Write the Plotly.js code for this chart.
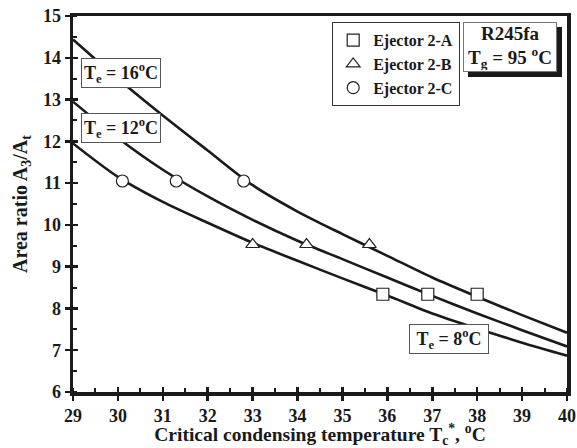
<!DOCTYPE html>
<html><head><meta charset="utf-8">
<script src="https://cdn.plot.ly/plotly-3.0.1.min.js"></script>
<style>html,body{margin:0;padding:0;background:#fff}#chart{width:577px;height:448px}</style>
</head><body><div id="chart"></div>
<script>
// Critical condensing temperature (°C) at which the fitted curves were read
const tempC = [29, 30, 31, 32, 33, 34, 35, 36, 37, 38, 39, 40];
// Area ratio curves for evaporator temperatures
const te8  = [11.95, 11.15, 10.55, 10.05, 9.57, 9.14, 8.72, 8.31, 7.88, 7.52, 7.18, 6.87];
const te12 = [12.95, 12.08, 11.32, 10.68, 10.12, 9.62, 9.18, 8.74, 8.30, 7.88, 7.48, 7.09];
const te16 = [14.44, 13.50, 12.62, 11.78, 10.95, 10.32, 9.78, 9.26, 8.74, 8.28, 7.84, 7.42];
// Experimental points
const ejA_x = [35.9, 36.9, 38.0];
const ejA_y = [8.34, 8.34, 8.34];
const ejB_x = [33.0, 34.2, 35.6];
const ejB_y = [9.53, 9.53, 9.53];
const ejC_x = [30.1, 31.3, 32.8];
const ejC_y = [11.05, 11.05, 11.05];
const seriesNames = ['Ejector 2-A', 'Ejector 2-B', 'Ejector 2-C'];
const curveLabels = ['T<sub>e</sub> = 8<sup>o</sup>C', 'T<sub>e</sub> = 12<sup>o</sup>C', 'T<sub>e</sub> = 16<sup>o</sup>C'];

const FONT = 'Liberation Serif, Times New Roman, serif';
const INK = '#1a1a1a';
const lineStyle = {color: INK, width: 2.6, shape: 'spline', smoothing: 0.8};
const mk = (sym) => ({symbol: sym, size: 12, color: '#fff', line: {color: '#222', width: 1.2}});

const traces = [
  {x: tempC, y: te8, mode: 'lines', line: lineStyle, showlegend: false, hoverinfo: 'skip'},
  {x: tempC, y: te12, mode: 'lines', line: lineStyle, showlegend: false, hoverinfo: 'skip'},
  {x: tempC, y: te16, mode: 'lines', line: lineStyle, showlegend: false, hoverinfo: 'skip'},
  {x: ejA_x, y: ejA_y, mode: 'markers', name: seriesNames[0], marker: mk('square')},
  {x: ejB_x, y: ejB_y, mode: 'markers', name: seriesNames[1], marker: mk('triangle-up')},
  {x: ejC_x, y: ejC_y, mode: 'markers', name: seriesNames[2], marker: mk('circle')},
  // invisible trace carrying the inner half of the major ticks
  {x: [29], y: [6], xaxis: 'x2', yaxis: 'y2', mode: 'markers', marker: {opacity: 0}, showlegend: false, hoverinfo: 'skip'}
];

const boxAnn = (x, y, text) => ({
  x: x, y: y, xref: 'x', yref: 'y', xanchor: 'center', yanchor: 'middle', text: text, showarrow: false,
  font: {family: FONT, size: 18, color: INK, weight: 'bold'},
  bgcolor: '#fff', bordercolor: '#555', borderwidth: 1, borderpad: 2,
  width: 74, height: 24
});

const infoX = (510 - 73) / 494, infoY = 1 - (47 - 16) / 376;

const layout = {
  width: 577, height: 448,
  margin: {l: 73, r: 10, t: 16, b: 56},
  paper_bgcolor: '#fff', plot_bgcolor: 'rgba(0,0,0,0)',
  font: {family: FONT, color: INK, weight: 'bold'},
  xaxis: {
    range: [29, 40], dtick: 1, tick0: 29, showgrid: false, zeroline: false,
    showline: true, linewidth: 3.5, linecolor: INK, mirror: true,
    ticks: 'outside', ticklen: 5, tickwidth: 2.5, tickcolor: INK,
    minor: {dtick: 0.5, ticks: 'inside', ticklen: 4, tickwidth: 2, tickcolor: INK, showgrid: false},
    tickfont: {family: FONT, size: 18, color: INK, weight: 'bold'},
    title: {text: 'Critical condensing temperature T<sub>c</sub><sup>*</sup>, <sup>o</sup>C', standoff: 8,
            font: {family: FONT, size: 19.5, color: INK, weight: 'bold'}}
  },
  yaxis: {
    range: [6, 15], dtick: 1, showgrid: false, zeroline: false,
    showline: true, linewidth: 3.5, linecolor: INK, mirror: true,
    ticks: 'outside', ticklen: 5, tickwidth: 2.5, tickcolor: INK,
    minor: {dtick: 0.5, ticks: 'inside', ticklen: 4, tickwidth: 2, tickcolor: INK, showgrid: false},
    tickfont: {family: FONT, size: 18, color: INK, weight: 'bold'},
    title: {text: 'Area ratio A<sub>3</sub>/A<sub>t</sub>', standoff: 11,
            font: {family: FONT, size: 20, color: INK, weight: 'bold'}}
  },
  xaxis2: {overlaying: 'x', matches: 'x', range: [29, 40], dtick: 1, tick0: 29, showgrid: false, zeroline: false,
           showline: false, ticks: 'inside', ticklen: 5, tickwidth: 2.5, tickcolor: INK, showticklabels: false, side: 'bottom'},
  yaxis2: {overlaying: 'y', matches: 'y', range: [6, 15], dtick: 1, showgrid: false, zeroline: false,
           showline: false, ticks: 'inside', ticklen: 5, tickwidth: 2.5, tickcolor: INK, showticklabels: false, side: 'left'},
  showlegend: true,
  legend: {
    x: (332 - 73) / 494, y: 1 - (22 - 16) / 376, xanchor: 'left', yanchor: 'top',
    bgcolor: '#fff', bordercolor: '#333', borderwidth: 1.2,
    font: {family: FONT, size: 16, color: INK, weight: 'bold'},
    itemwidth: 30, tracegroupgap: 0
  },
  annotations: [
    boxAnn(30.07, 13.64, curveLabels[2]),
    boxAnn(30.07, 12.32, curveLabels[1]),
    boxAnn(37.37, 7.27, curveLabels[0]),
    // drop shadow of the info box
    {x: infoX, y: infoY, xref: 'paper', yref: 'paper', xanchor: 'center', yanchor: 'middle',
     xshift: 5, yshift: -5, showarrow: false, text: '&nbsp;',
     font: {family: FONT, size: 19, color: INK},
     bgcolor: INK, bordercolor: INK, borderwidth: 1, borderpad: 1, width: 90, height: 46},
    {x: infoX, y: infoY, xref: 'paper', yref: 'paper', xanchor: 'center', yanchor: 'middle',
     showarrow: false,
     text: 'R245fa<br>T<sub>g</sub> = 95 <sup>o</sup>C',
     font: {family: FONT, size: 19, color: INK, weight: 'bold'},
     bgcolor: '#fff', bordercolor: '#777', borderwidth: 1, borderpad: 1, width: 90, height: 46}
  ]
};

Plotly.newPlot('chart', traces, layout, {displayModeBar: false, staticPlot: true});
</script>
</body></html>
